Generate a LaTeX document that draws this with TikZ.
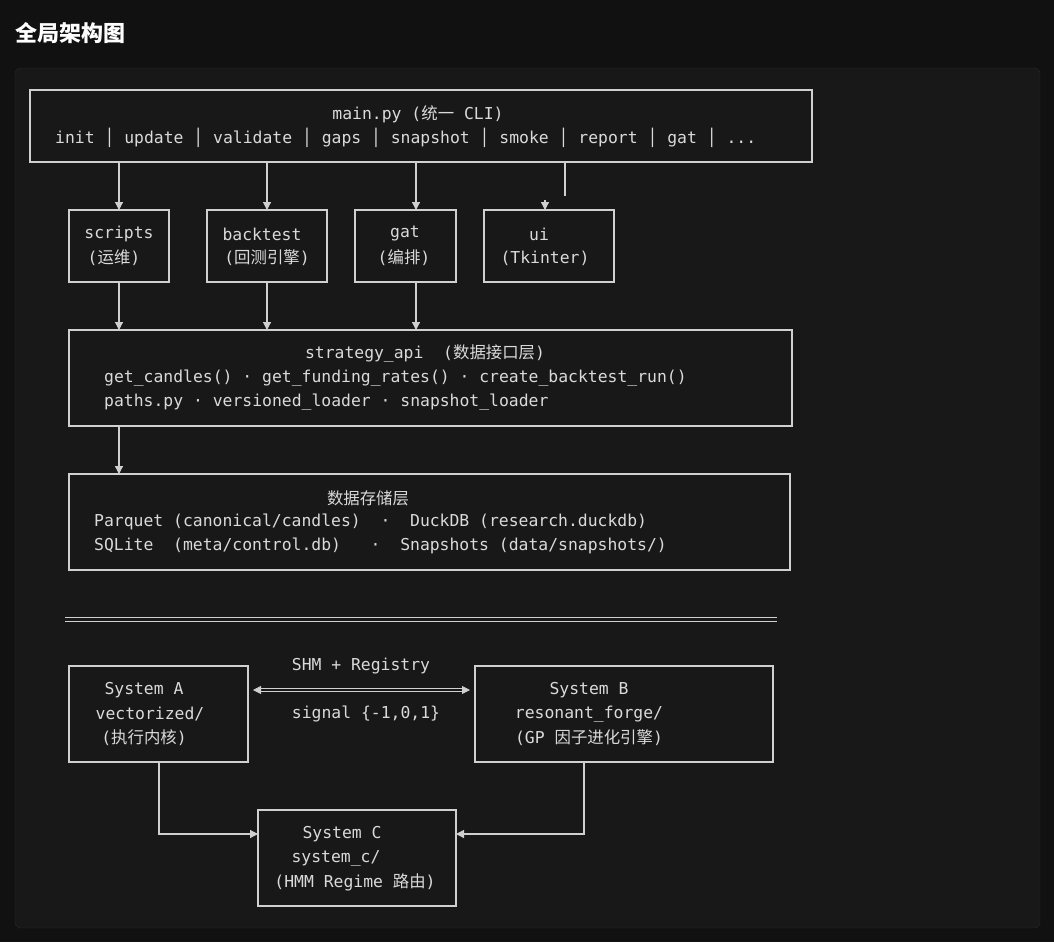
\documentclass[tikz,border=0pt]{standalone}
\usepackage{fontspec}
\setmonofont{DejaVu Sans Mono}
\newfontfamily\cjk{Noto Sans CJK SC}
\usetikzlibrary{arrows.meta}
\definecolor{bgout}{HTML}{111111}
\definecolor{panel}{HTML}{181818}
\definecolor{panelb}{HTML}{2A2A2A}
\definecolor{ln}{HTML}{D0D0D0}
\definecolor{tx}{HTML}{DADADA}
\newcommand{\zh}[1]{{\cjk #1}}
\begin{document}
\begin{tikzpicture}[x=1pt,y=-1pt,
  box/.style={draw=ln,line width=1.2pt},
  t/.style={text=tx,font=\ttfamily\fontsize{16.4}{17}\selectfont,inner sep=0pt},
  tw/.style={t,anchor=west},
  con/.style={draw=ln,line width=1.2pt,-{Triangle[length=8pt,width=8pt]}}]
\fill[bgout] (0,0) rectangle (1054,942);
\useasboundingbox (0,0) rectangle (1054,942);
\fill[panel,draw=panelb,rounded corners=6pt] (15,68) rectangle (1040,928);
\node[anchor=west,text=white,font=\cjk\bfseries\fontsize{22}{24}\selectfont,inner sep=0pt] (title) at (15,33) {全局架构图};
% main
\draw[box] (30,90) rectangle (812,162);
\coordinate (m1) at (119,162);\coordinate (m2) at (267,162);\coordinate (m3) at (416,162);\coordinate (m4) at (565,162);
\coordinate (m4e) at (565,196);\coordinate (ua) at (545,200);
\node[t] (mt) at (418,114) {main.py (\zh{统一} CLI)};
\node[tw] (ml) at (55,138) {init │ update │ validate │ gaps │ snapshot │ smoke │ report │ gat │ ...};
% row2
\draw[box] (69,210) rectangle (169,282); \coordinate (s) at (119,210); \coordinate (sb) at (119,282);
\draw[box] (207,210) rectangle (327,282); \coordinate (b) at (267,210); \coordinate (bb) at (267,282);
\draw[box] (355,210) rectangle (456,282); \coordinate (g) at (416,210); \coordinate (gb) at (416,282);
\draw[box] (484,210) rectangle (614,282); \coordinate (u) at (545,210);
\node[t] (s1) at (119,234) {scripts}; \node[t] (s2) at (114,258) {(\zh{运维})};
\node[t] (b1) at (262,234) {backtest}; \node[t] (b2) at (267,258) {(\zh{回测引擎})};
\node[t] (g1) at (405,234) {gat}; \node[t] (g2) at (404,258) {(\zh{编排})};
\node[t] (u1) at (539,234) {ui}; \node[t] (u2) at (545,258) {(Tkinter)};
\draw[con] (m1) -- (s); \draw[con] (m2) -- (b); \draw[con] (m3) -- (g);
\draw[ln,line width=1.2pt] (m4) -- (m4e);
\draw[con] (ua) -- (u);
% strategy api
\draw[box] (69,330) rectangle (792,426);
\coordinate (a1) at (119,330);\coordinate (a2) at (267,330);\coordinate (a3) at (416,330);\coordinate (ab) at (119,426);
\draw[con] (sb) -- (a1); \draw[con] (bb) -- (a2); \draw[con] (gb) -- (a3);
\node[t] (at) at (425,354) {strategy\_api~~(\zh{数据接口层})};
\node[tw] (a2t) at (104,378) {get\_candles() · get\_funding\_rates() · create\_backtest\_run()};
\node[tw] (a3t) at (104,402) {paths.py · versioned\_loader · snapshot\_loader};
% storage
\draw[box] (69,474) rectangle (790,570);
\coordinate (d1) at (119,474);
\draw[con] (ab) -- (d1);
\node[t] (dt) at (368,498) {\zh{数据存储层}};
\node[tw] (d2) at (94,522) {Parquet (canonical/candles)~~·~~DuckDB (research.duckdb)};
\node[tw] (d3) at (94,546) {SQLite~~(meta/control.db)~~~·~~Snapshots (data/snapshots/)};
% separator
\draw[ln,line width=1pt] (65,617) -- (777,617) (65,621) -- (777,621);
% systems
\draw[box] (69,666) rectangle (248,762);
\draw[box] (475,666) rectangle (773,762);
\draw[box] (258,810) rectangle (456,906);
\node[t] (A1) at (144,690) {System A}; \node[t] (A2) at (150,714) {vectorized/}; \node[t] (A3) at (144,738) {(\zh{执行内核})};
\node[t] (B1) at (589,690) {System B}; \node[t] (B2) at (589,714) {resonant\_forge/}; \node[t] (B3) at (589,738) {(GP \zh{因子进化引擎})};
\node[t] (C1) at (342,834) {System C}; \node[t] (C2) at (336,858) {system\_c/}; \node[t] (C3) at (355,882) {(HMM Regime \zh{路由})};
\coordinate (ar) at (253,690); \coordinate (bl) at (470,690);
\draw[draw=ln,line width=0.8pt,double=panel,double distance=2.2pt,{Triangle[length=8pt,width=8pt]}-{Triangle[length=8pt,width=8pt]}] (ar) -- (bl);
\node[t] (shm) at (361,666) {SHM + Registry};
\node[t] (sig) at (366,714) {signal \{-1,0,1\}};
\coordinate (Ab) at (159,762); \coordinate (Cl) at (258,834);
\coordinate (Bb) at (584,762); \coordinate (Cr) at (456,834);
\draw[con] (Ab) |- (Cl);
\draw[con] (Bb) |- (Cr);
\end{tikzpicture}
\end{document}
